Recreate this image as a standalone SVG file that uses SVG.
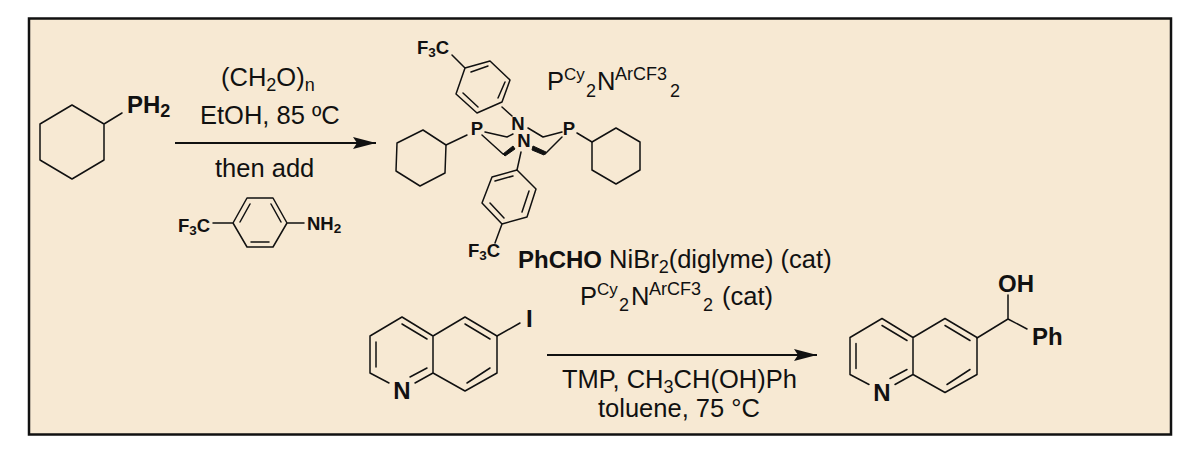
<svg xmlns="http://www.w3.org/2000/svg" width="1200" height="461" viewBox="0 0 1200 461">
<style>
text{font-family:"Liberation Sans",Arial,sans-serif;fill:#111}
.r{font-size:25.500px}
.sub{font-size:18px}
.b{font-weight:bold;font-size:24px}
.a{font-size:24px;font-weight:bold}
.s{font-size:18.500px;font-weight:bold}
.ss{font-size:13.500px}
.bd{fill:none;stroke:#111;stroke-width:1.5;stroke-linejoin:round;stroke-linecap:round}
.w{fill:#111;stroke:#111;stroke-width:1;stroke-linejoin:round}
</style>
<defs>
<marker id="ah" markerUnits="userSpaceOnUse" markerWidth="24" markerHeight="12" refX="23" refY="6" orient="auto"><path d="M0 0L23 6L0 12L4 6Z" fill="#111"/></marker>
<g id="quin"><path class="bd" d="M389 383L370 373V336L402 317L433 336V373L415 383M433 336L465 317L497 336V373L465 391L433 373M376 342V367M402 324L427 339M410 377L427 368M465 324L490 339M490 368L467 383"/></g>
</defs>
<rect id="frame" x="29" y="18.500" width="1142" height="416" fill="#f7e9d3" stroke="#111" stroke-width="2.500"/>
<g id="connectors">
<path d="M175 143H376" stroke="#111" stroke-width="1.800" fill="none" marker-end="url(#ah)"/>
<path d="M547 355H817" stroke="#111" stroke-width="1.800" fill="none" marker-end="url(#ah)"/>
</g>
<g id="cyclohexylphosphine">
<path class="bd" d="M72 105L104 124V160L72 179L40 160V124ZM104 124L122 113"/>
<text class="a" x="127" y="113">PH<tspan font-size="18" dy="4">2</tspan></text>
</g>
<g id="conditions-1">
<text class="r" x="221" y="86">(CH<tspan class="sub" dy="5">2</tspan><tspan dy="-5">O)</tspan><tspan class="sub" dy="5">n</tspan></text>
<text class="r" x="200" y="124">EtOH, 85 ºC</text>
<text class="r" x="215" y="177">then add</text>
</g>
<g id="aniline">
<path class="bd" d="M233 223L247 198H273L287 223L273 247H247ZM240 222L250 204M251 242H269M271 204L281 222M213 223H233M287 223H304"/>
<text class="s" x="178" y="232">F<tspan class="ss" dy="3">3</tspan><tspan dy="-3">C</tspan></text>
<text class="s" x="307" y="230">NH<tspan class="ss" dy="3">2</tspan></text>
</g>
<g id="ligand">
<path class="bd" d="M465 68L490 61L510 80L502 102L477 113L456 94ZM452 55L465 68M471 72L488 66M505 82L498 98M463 93L478 107M502 107L512 116"/>
<path class="bd" d="M485 132L507 137L513 134M528 128L543 137L562 132M482 135L503 154M545 154L562 137M467 135L446 145M577 133L592 142M521 152L517 170"/>
<path class="w" d="M503 154L513 146L515 149L505 156ZM533 146L546 152L544 155L532 150Z"/>
<path class="bd" d="M446 145L445 173L420 186L396 171L397 143L423 130ZM592 142L616 128L640 142V170L616 184L592 170Z"/>
<path class="bd" d="M517 170L536 189L527 217L502 224L482 203L492 177ZM495 181L513 176M529 191L522 212M490 203L504 218M502 224L495 243"/>
<text class="s" x="417" y="54">F<tspan class="ss" dy="3">3</tspan><tspan dy="-3">C</tspan></text>
<text class="s" x="468" y="257">F<tspan class="ss" dy="3">3</tspan><tspan dy="-3">C</tspan></text>
<text class="s" x="518" y="130" text-anchor="middle">N</text>
<text class="s" x="524" y="147" text-anchor="middle">N</text>
<text class="s" x="477" y="135" text-anchor="middle">P</text>
<text class="s" x="569" y="135" text-anchor="middle">P</text>
</g>
<g id="ligand-label">
<text class="r" x="547" y="90">P</text><text x="564" y="80" font-size="17">Cy</text><text x="586" y="97" font-size="18">2</text><text class="r" x="597" y="90">N</text><text x="615" y="80" font-size="18">ArCF3</text><text x="670" y="97" font-size="18">2</text>
</g>
<g id="conditions-2">
<text class="r" x="518" y="268"><tspan class="b">PhCHO</tspan> NiBr<tspan class="sub" dy="5">2</tspan><tspan dy="-5">(diglyme) (cat)</tspan></text>
<text class="r" x="580" y="305">P</text><text x="597" y="295" font-size="17">Cy</text><text x="619" y="311" font-size="18">2</text><text class="r" x="631" y="305">N</text><text x="649" y="295" font-size="18">ArCF3</text><text x="703" y="311" font-size="18">2</text><text class="r" x="722" y="305">(cat)</text>
<text class="r" x="562" y="388">TMP, CH<tspan class="sub" dy="5">3</tspan><tspan dy="-5">CH(OH)Ph</tspan></text>
<text class="r" x="598" y="417">toluene, 75 °C</text>
</g>
<g id="iodoquinoline">
<use href="#quin"/>
<path class="bd" d="M497 336L520 323"/>
<text class="a" x="526" y="327">I</text>
<text class="a" x="402" y="399" text-anchor="middle">N</text>
</g>
<g id="product">
<use href="#quin" x="480" y="1.500"/>
<path class="bd" d="M977 338L1008 319L1027 329M1008 319V295"/>
<text class="a" x="998" y="292">OH</text>
<text class="a" x="1032" y="345">Ph</text>
<text class="a" x="882" y="401" text-anchor="middle">N</text>
</g>
</svg>
